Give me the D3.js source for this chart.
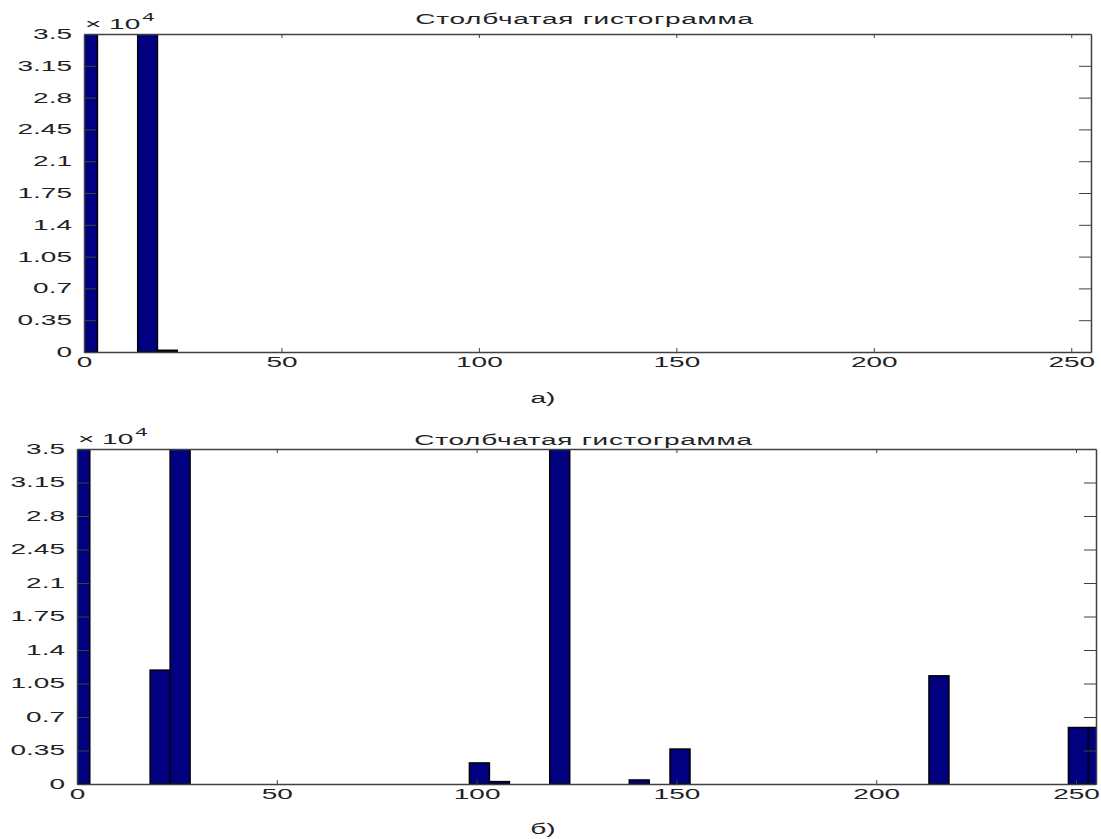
<!DOCTYPE html>
<html>
<head>
<meta charset="utf-8">
<script src="https://cdn.jsdelivr.net/npm/d3@7"></script>
<style>
  body { margin: 0; background: #fff; }
  text { font-family: "Liberation Sans", Arial, sans-serif; fill: #222; }
  .axis path, .axis line { stroke: #404040; }
</style>
</head>
<body>
<div id="chart-container"></div>
<script>
// histogram a): bin centres and counts (bars above 35000 are cut by the axes)
var topCenters = [0.9, 16.1, 21.1];
var topCounts = [61000, 47000, 190];

// histogram б)
var bottomCenters = [0.7, 20.8, 25.8, 100.7, 105.7, 120.8, 140.7, 150.9, 215.7, 250.6, 255.6];
var bottomCounts = [52000, 11900, 41000, 2200, 250, 45000, 420, 3650, 11300, 5900, 5900];

var xTicks = [0, 50, 100, 150, 200, 250];
var yTicks = [0, 3500, 7000, 10500, 14000, 17500, 21000, 24500, 28000, 31500, 35000];
var yTickLabels = ["0", "0.35", "0.7", "1.05", "1.4", "1.75", "2.1", "2.45", "2.8", "3.15", "3.5"];

var titleText = "Столбчатая гистограмма";
var captions = ["а)", "б)"];

var binWidth = 5;
var stretch = 2; // the picture is stretched wide, text too

var svg = d3.select('#chart-container')
    .append('svg')
    .attr('width', 1101)
    .attr('height', 839);

function wideText(parent, x, y, str, anchor, size) {
    return parent.append('text')
        .attr('transform', 'translate(' + x + ',' + y + ') scale(' + stretch + ',1)')
        .attr('text-anchor', anchor || 'start')
        .style('font-size', (size || 14) + 'px')
        .text(str);
}

function drawHist(box, centers, counts, opts) {
    var width = box.right - box.left,
        height = box.bottom - box.top;

    var x = d3.scaleLinear().domain([0, 255]).range([0, width]);
    var y = d3.scaleLinear().domain([0, 35000]).range([height, 0]);

    var main = svg.append('g')
        .attr('transform', 'translate(' + box.left + ',' + box.top + ')');

    main.append('clipPath')
        .attr('id', opts.id)
        .append('rect')
        .attr('width', width)
        .attr('height', height);

    var data = centers.map(function(c, i) { return { c: c, n: counts[i] }; });

    main.append('g')
        .attr('clip-path', 'url(#' + opts.id + ')')
        .selectAll('rect')
        .data(data)
        .enter().append('rect')
            .attr('x', function(d) { return x(d.c - binWidth / 2); })
            .attr('width', function(d) { return x(binWidth) - x(0); })
            .attr('y', function(d) { return y(d.n); })
            .attr('height', function(d) { return y(0) - y(d.n); })
            .style('fill', '#000080')
            .style('stroke', '#000')
            .style('stroke-width', 1.5);

    // bottom axis
    var xb = main.append('g')
        .attr('class', 'axis')
        .attr('transform', 'translate(0,' + height + ')')
        .call(d3.axisBottom(x).tickValues(xTicks).tickSizeInner(-4).tickSizeOuter(0).tickPadding(5));
    xb.selectAll('text').attr('transform', 'scale(' + stretch + ',1)').style('font-size', '14px');

    // top axis, ticks only
    main.append('g')
        .attr('class', 'axis')
        .call(d3.axisTop(x).tickValues(xTicks).tickSizeInner(-4).tickSizeOuter(0).tickFormat(''));

    // left axis
    var yl = main.append('g')
        .attr('class', 'axis')
        .call(d3.axisLeft(y).tickValues(yTicks).tickSizeInner(-12).tickSizeOuter(0).tickPadding(6)
            .tickFormat(function(d, i) { return yTickLabels[i]; }));
    yl.selectAll('text').attr('transform', 'scale(' + stretch + ',1)').style('font-size', '14px');

    // right axis, ticks only
    main.append('g')
        .attr('class', 'axis')
        .attr('transform', 'translate(' + width + ',0)')
        .call(d3.axisRight(y).tickValues(yTicks).tickSizeInner(-12).tickSizeOuter(0).tickFormat(''));

    main.selectAll('.axis path').style('stroke-width', 1.5);
    main.selectAll('.axis .tick text').style('fill', '#222');

    // exponent label: "× 10" then a raised "4"
    var ex = wideText(main, 1, -5, '× 10');
    var exWidth = ex.node().getComputedTextLength() * stretch;
    wideText(main, 1 + exWidth + 2, -13, '4', 'start', 11);

    var title = wideText(svg, (box.left + box.right) / 2 - 3, opts.titleY, titleText, 'middle');
    title.style('letter-spacing', '0.35px');
    wideText(svg, 543, opts.captionY, opts.caption, 'middle');
}

drawHist({ left: 84, right: 1091, top: 34, bottom: 352 }, topCenters, topCounts,
    { id: 'clipA', titleY: 24, caption: captions[0], captionY: 403 });

drawHist({ left: 77, right: 1096, top: 449, bottom: 784 }, bottomCenters, bottomCounts,
    { id: 'clipB', titleY: 445, caption: captions[1], captionY: 834 });
</script>
</body>
</html>
